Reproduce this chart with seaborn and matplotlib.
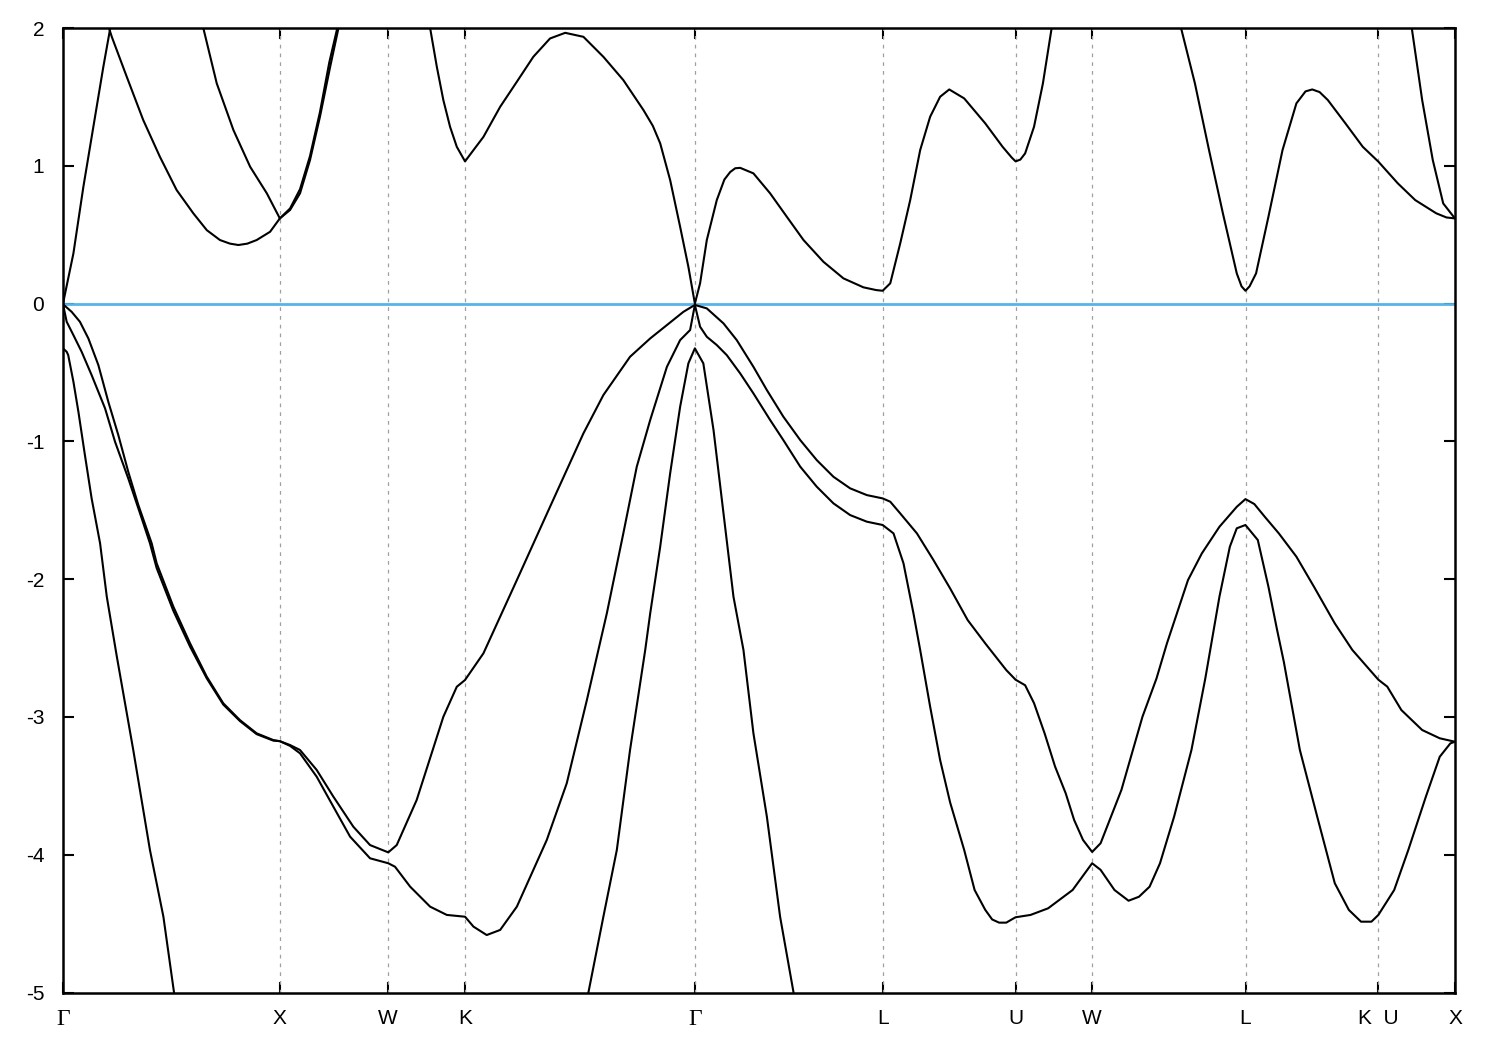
import numpy as np
import pandas as pd
import matplotlib
matplotlib.use("Agg")
import matplotlib.pyplot as plt
import seaborn as sns

# ---- high-symmetry path ----
tick_labels = ["Γ", "X", "W", "K", "Γ", "L", "U", "W", "L", "K  U", "X"]
tick_pos = [0.0, 1.0, 1.5, 1.8536, 2.9142, 3.7802, 4.3926, 4.7462, 5.4533, 6.0657, 6.4194]
y_ticks = [2, 1, 0, -1, -2, -3, -4, -5]

# ---- conduction bands (segments) ----
cb1_k = [0.0, 0.048, 0.094, 0.140, 0.186, 0.218, 0.226]
cb1_e = [0.0, 0.364, 0.848, 1.283, 1.718, 2.0, 2.06]

cb2_k = [0.206, 0.214, 0.225, 0.294, 0.370, 0.447, 0.524, 0.601, 0.663, 0.724, 0.770, 0.809, 0.850, 0.893, 0.955, 1.0]
cb2_e = [2.06, 1.99, 1.936, 1.646, 1.332, 1.065, 0.824, 0.655, 0.533, 0.461, 0.435, 0.425, 0.435, 0.461, 0.521, 0.618]

cb3_k = [0.640, 0.647, 0.709, 0.786, 0.863, 0.940, 1.0]
cb3_e = [2.05, 2.0, 1.598, 1.259, 0.993, 0.80, 0.618]

cb4_k = [1.0, 1.047, 1.093, 1.139, 1.185, 1.232, 1.270, 1.276]
cb4_e = [0.618, 0.679, 0.80, 1.041, 1.356, 1.718, 1.997, 2.05]

cb5_k = [1.0, 1.047, 1.093, 1.139, 1.185, 1.228, 1.265, 1.271]
cb5_e = [0.618, 0.69, 0.83, 1.07, 1.39, 1.75, 2.0, 2.05]

cb6_k = [1.690, 1.693, 1.724, 1.754, 1.785, 1.816, 1.854, 1.893, 1.939, 2.016, 2.093,
         2.169, 2.246, 2.316, 2.400, 2.492, 2.584, 2.677, 2.720, 2.754, 2.800, 2.846, 2.884,
         2.914, 2.938, 2.969, 3.015, 3.050, 3.077, 3.100, 3.123, 3.184, 3.261, 3.338, 3.415, 3.507,
         3.599, 3.691, 3.750, 3.780, 3.815, 3.861, 3.907, 3.953, 3.999, 4.045, 4.087, 4.156,
         4.253, 4.333, 4.375, 4.393, 4.415, 4.437, 4.478, 4.519, 4.559, 4.565]
cb6_e = [2.05, 2.0, 1.718, 1.477, 1.283, 1.138, 1.032, 1.114, 1.21, 1.428, 1.61,
         1.791, 1.924, 1.965, 1.936, 1.791, 1.622, 1.404, 1.29, 1.163, 0.896, 0.557, 0.267,
         0.0, 0.147, 0.461, 0.751, 0.90, 0.955, 0.982, 0.985, 0.945, 0.80, 0.63, 0.461, 0.303,
         0.183, 0.118, 0.098, 0.093, 0.147, 0.437, 0.751, 1.114, 1.356, 1.501, 1.554, 1.489,
         1.308, 1.138, 1.06, 1.032, 1.045, 1.09, 1.283, 1.598, 1.997, 2.05]

cb7_k = [5.150, 5.156, 5.220, 5.285, 5.349, 5.413, 5.435, 5.453, 5.472, 5.502, 5.559, 5.624, 5.688,
         5.730, 5.761, 5.795, 5.833, 5.914, 5.994, 6.066, 6.156, 6.236, 6.333, 6.380, 6.419]
cb7_e = [2.05, 2.0, 1.598, 1.114, 0.655, 0.219, 0.125, 0.093, 0.125, 0.219, 0.63, 1.114, 1.453,
         1.54, 1.554, 1.535, 1.477, 1.308, 1.138, 1.03, 0.872, 0.751, 0.655, 0.625, 0.618]

cb8_k = [6.216, 6.220, 6.268, 6.317, 6.365, 6.419]
cb8_e = [2.05, 2.0, 1.477, 1.041, 0.727, 0.618]

# ---- valence bands ----
vb1_k = [0.0, 0.040, 0.078, 0.117, 0.163, 0.209, 0.255, 0.301, 0.347, 0.409, 0.432,
         0.509, 0.586, 0.663, 0.739, 0.816, 0.893, 0.970, 1.0,
         1.047, 1.093, 1.170, 1.247, 1.339, 1.416, 1.5,
         1.539, 1.631, 1.754, 1.816, 1.854, 1.939, 2.093, 2.246, 2.400, 2.492, 2.615,
         2.708, 2.785, 2.861, 2.914,
         2.969, 3.046, 3.107, 3.184, 3.246, 3.322, 3.400, 3.476, 3.553, 3.630, 3.707, 3.780,
         3.815, 3.861, 3.938, 4.014, 4.091, 4.172, 4.253, 4.350, 4.393,
         4.437, 4.478, 4.527, 4.575, 4.624, 4.663, 4.704, 4.746,
         4.785, 4.881, 4.978, 5.043, 5.091, 5.188, 5.252, 5.333, 5.413, 5.453,
         5.494, 5.542, 5.607, 5.688, 5.769, 5.865, 5.946, 6.066, 6.107, 6.172, 6.268,
         6.349, 6.419]
vb1_e = [-0.005, -0.06, -0.132, -0.253, -0.446, -0.713, -0.954, -1.221, -1.46, -1.74, -1.885,
         -2.2, -2.466, -2.708, -2.901, -3.023, -3.119, -3.168, -3.176,
         -3.204, -3.24, -3.385, -3.579, -3.797, -3.93, -3.983,
         -3.93, -3.603, -2.999, -2.781, -2.732, -2.538, -2.007, -1.475, -0.942, -0.664, -0.386,
         -0.253, -0.156, -0.060, -0.01,
         -0.035, -0.144, -0.265, -0.459, -0.628, -0.821, -0.991, -1.136, -1.257, -1.341, -1.390, -1.414,
         -1.438, -1.523, -1.668, -1.861, -2.067, -2.297, -2.466, -2.66, -2.73,
         -2.77, -2.90, -3.12, -3.36, -3.554, -3.748, -3.893, -3.98,
         -3.917, -3.53, -2.999, -2.72, -2.466, -2.007, -1.813, -1.62, -1.475, -1.419,
         -1.455, -1.547, -1.668, -1.837, -2.055, -2.321, -2.514, -2.73, -2.78, -2.95, -3.095,
         -3.155, -3.18]

vb2_k = [0.0, 0.017, 0.048, 0.086, 0.132, 0.194, 0.240, 0.301, 0.363, 0.401, 0.432,
         0.509, 0.586, 0.663, 0.739, 0.816, 0.893, 0.970, 1.0,
         1.047, 1.093, 1.170, 1.247, 1.324, 1.416, 1.5,
         1.531, 1.601, 1.693, 1.770, 1.854, 1.893, 1.954, 2.016, 2.093, 2.231, 2.323,
         2.416, 2.469, 2.508, 2.584, 2.646, 2.708, 2.785, 2.846, 2.892, 2.914,
         2.938, 2.969, 3.015, 3.061, 3.123, 3.184, 3.261, 3.322, 3.400, 3.476, 3.553,
         3.630, 3.707, 3.780,
         3.830, 3.876, 3.922, 3.953, 3.999, 4.045, 4.091, 4.156, 4.204, 4.253, 4.285,
         4.317, 4.350, 4.375, 4.393,
         4.462, 4.543, 4.656, 4.746,
         4.785, 4.849, 4.914, 4.962, 5.011, 5.059, 5.124, 5.204, 5.268, 5.333, 5.381,
         5.413, 5.453,
         5.510, 5.559, 5.599, 5.630, 5.704, 5.784, 5.865, 5.930, 5.986, 6.034, 6.066,
         6.139, 6.204, 6.285, 6.349, 6.398, 6.419]
vb2_e = [-0.005, -0.132, -0.229, -0.35, -0.519, -0.761, -1.003, -1.269, -1.559, -1.74, -1.92,
         -2.23, -2.49, -2.72, -2.91, -3.03, -3.125, -3.172, -3.176,
         -3.21, -3.264, -3.434, -3.652, -3.869, -4.026, -4.062,
         -4.087, -4.232, -4.377, -4.437, -4.45, -4.522, -4.583, -4.546, -4.377, -3.893, -3.482,
         -2.877, -2.514, -2.248, -1.668, -1.184, -0.845, -0.459, -0.265, -0.192, -0.01,
         -0.168, -0.241, -0.301, -0.374, -0.507, -0.652, -0.845, -0.991, -1.184, -1.329, -1.45,
         -1.535, -1.583, -1.607,
         -1.668, -1.885, -2.248, -2.514, -2.926, -3.313, -3.62, -3.966, -4.256, -4.40, -4.47,
         -4.493, -4.493, -4.47, -4.454,
         -4.437, -4.389, -4.256, -4.062,
         -4.11, -4.256, -4.334, -4.305, -4.232, -4.062, -3.724, -3.24, -2.72, -2.128, -1.765,
         -1.631, -1.607,
         -1.716, -2.055, -2.369, -2.6, -3.24, -3.724, -4.207, -4.401, -4.486, -4.486, -4.437,
         -4.256, -3.966, -3.579, -3.289, -3.192, -3.18]

vb3a_k = [0.0, 0.017, 0.024, 0.048, 0.071, 0.101, 0.132, 0.171, 0.202, 0.248, 0.324,
          0.401, 0.463, 0.512, 0.52]
vb3a_e = [-0.325, -0.35, -0.374, -0.567, -0.785, -1.099, -1.414, -1.74, -2.128, -2.56, -3.24,
          -3.966, -4.45, -5.0, -5.1]

vb3b_k = [2.410, 2.423, 2.492, 2.554, 2.615, 2.685, 2.708, 2.754, 2.800, 2.846, 2.884,
          2.914, 2.953, 3.0, 3.046, 3.092, 3.138, 3.184, 3.246, 3.307, 3.369, 3.38]
vb3b_e = [-5.1, -5.0, -4.45, -3.966, -3.24, -2.514, -2.248, -1.765, -1.232, -0.749, -0.434,
          -0.325, -0.434, -0.918, -1.523, -2.128, -2.514, -3.119, -3.724, -4.45, -5.0, -5.1]

segments = {
    "cb1": (cb1_k, cb1_e), "cb2": (cb2_k, cb2_e), "cb3": (cb3_k, cb3_e),
    "cb4": (cb4_k, cb4_e), "cb5": (cb5_k, cb5_e), "cb6": (cb6_k, cb6_e),
    "cb7": (cb7_k, cb7_e), "cb8": (cb8_k, cb8_e),
    "vb1": (vb1_k, vb1_e), "vb2": (vb2_k, vb2_e),
    "vb3a": (vb3a_k, vb3a_e), "vb3b": (vb3b_k, vb3b_e),
}

frames = []
for name, (kk, ee) in segments.items():
    frames.append(pd.DataFrame({"k": kk, "E": ee, "seg": name}))
df = pd.concat(frames, ignore_index=True)

sns.set_style("ticks")
plt.rcParams["font.family"] = ["Liberation Sans", "DejaVu Sans"]
plt.rcParams["axes.unicode_minus"] = False

fig = plt.figure(figsize=(15, 10.5), dpi=100)
ax = fig.add_axes([63 / 1500, 1 - 992.5 / 1050, (1455 - 63) / 1500, (992.5 - 28) / 1050])

for xp in tick_pos[1:-1]:
    ax.axvline(xp, color="#a0a0a0", lw=0.9, ls=(0, (3, 4)), zorder=1)
ax.axhline(0, color="#56b4e9", lw=2.0, zorder=2)

sns.lineplot(data=df, x="k", y="E", units="seg", estimator=None, sort=False,
             color="black", lw=1.5, legend=False, ax=ax, zorder=3)

ax.set_xlim(tick_pos[0], tick_pos[-1])
ax.set_ylim(-5, 2)
ax.set_xticks(tick_pos)
ax.set_xticklabels(tick_labels)
ax.set_yticks(y_ticks)
ax.set_yticklabels([str(v) for v in y_ticks])
ax.set_xlabel("")
ax.set_ylabel("")

ax.tick_params(axis="both", direction="in", length=8, width=1.5, labelsize=15,
               top=True, right=True, color="black", labelcolor="black")
ax.tick_params(axis="x", pad=12)
ax.tick_params(axis="y", pad=13.5)
for lab in ax.get_xticklabels():
    if lab.get_text() == "Γ":
        lab.set_fontfamily(["Liberation Serif", "DejaVu Serif"])
        lab.set_fontsize(17)

for sp in ax.spines.values():
    sp.set_linewidth(1.8)
    sp.set_color("black")
    sp.set_visible(True)

fig.savefig("out.png", dpi=100)
